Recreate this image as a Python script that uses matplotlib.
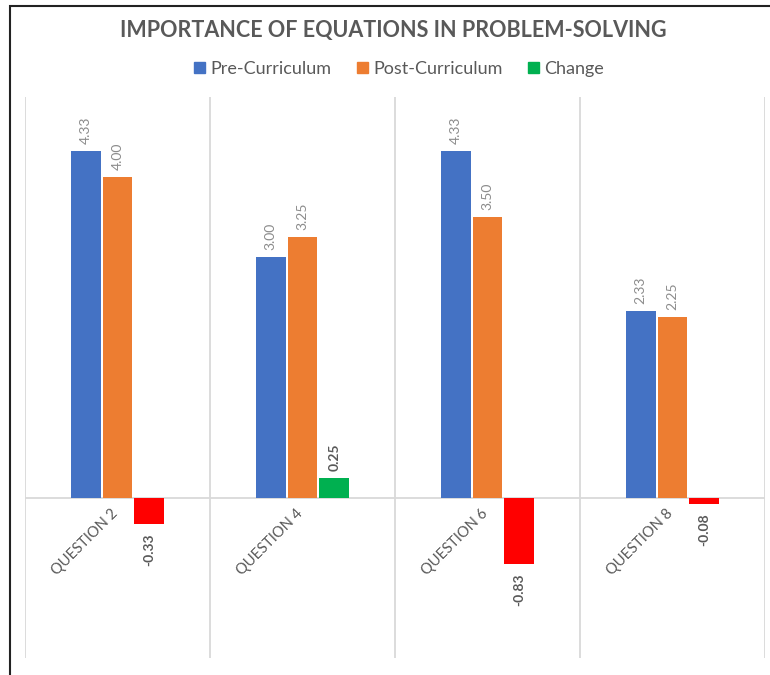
import numpy as np
import matplotlib.pyplot as plt
from matplotlib.patches import Rectangle

categories = ['QUESTION 2', 'QUESTION 4', 'QUESTION 6', 'QUESTION 8']
pre = [4.33, 3.00, 4.33, 2.33]
post = [4.00, 3.25, 3.50, 2.25]
change = [-0.33, 0.25, -0.83, -0.08]

plt.rcParams['font.family'] = ['Lato', 'DejaVu Sans']

blue = '#4472C4'
orange = '#ED7D31'
green = '#00B050'
red = '#FF0000'
grid = '#D9D9D9'

fig = plt.figure(figsize=(7.7, 6.75), dpi=100)
ax = fig.add_axes([25 / 770, 17 / 675, 740 / 770, 561 / 675])

x = np.arange(len(categories))
w = 0.162
step = 0.172

b1 = ax.bar(x - step, pre, w, color=blue, label='Pre-Curriculum', zorder=3)
b2 = ax.bar(x, post, w, color=orange, label='Post-Curriculum', zorder=3)
chg_colors = [green if c > 0 else red for c in change]
b3 = ax.bar(x + step, change, w, color=chg_colors, zorder=3)

# value labels
for bars, vals in [(b1, pre), (b2, post)]:
    for r, v in zip(bars, vals):
        ax.annotate(f'{v:.2f}', (r.get_x() + r.get_width() / 2, v),
                    xytext=(0, 5), textcoords='offset points',
                    rotation=90, ha='center', va='bottom',
                    fontsize=10, color='#8C8C8C')
for r, v in zip(b3, change):
    off = 5 if v > 0 else -7
    ax.annotate(f'{v:.2f}', (r.get_x() + r.get_width() / 2, v),
                xytext=(0, off), textcoords='offset points',
                rotation=90, ha='center', va='bottom' if v > 0 else 'top',
                fontsize=10, color='#595959', fontweight='bold')

# category labels
for i, c in enumerate(categories):
    ax.text(i - 0.01, -0.17, c, rotation=45, rotation_mode='anchor',
            ha='right', va='center', fontsize=10.5, color='#595959')

ax.set_xlim(-0.5, 3.5)
ax.set_ylim(-2, 5)
for xv in np.arange(-0.5, 4, 1):
    ax.axvline(xv, color=grid, lw=1.3, zorder=1)
ax.axhline(0, color=grid, lw=1.3, zorder=2)
ax.set_xticks([])
ax.set_yticks([])
for s in ax.spines.values():
    s.set_visible(False)

fig.text(393 / 770, 1 - 30 / 675, 'IMPORTANCE OF EQUATIONS IN PROBLEM-SOLVING',
         ha='center', va='center', fontsize=15.5, fontweight='bold', color='#595959')

h = [Rectangle((0, 0), 1, 1, color=blue), Rectangle((0, 0), 1, 1, color=orange),
     Rectangle((0, 0), 1, 1, color=green)]
fig.legend(h, ['Pre-Curriculum', 'Post-Curriculum', 'Change'], loc='center',
           bbox_to_anchor=(399 / 770, 1 - 69 / 675), ncol=3, frameon=False,
           fontsize=13, labelcolor='#595959', handlelength=0.6, handleheight=0.6,
           handletextpad=0.3, columnspacing=1.4)

# outer border
fig.patches.append(Rectangle((9.5 / 770, -0.1), 1.2, 1.1 - 6 / 675,
                             transform=fig.transFigure, fill=False,
                             edgecolor='#222222', lw=1.5))

fig.savefig('out.png', dpi=100)
